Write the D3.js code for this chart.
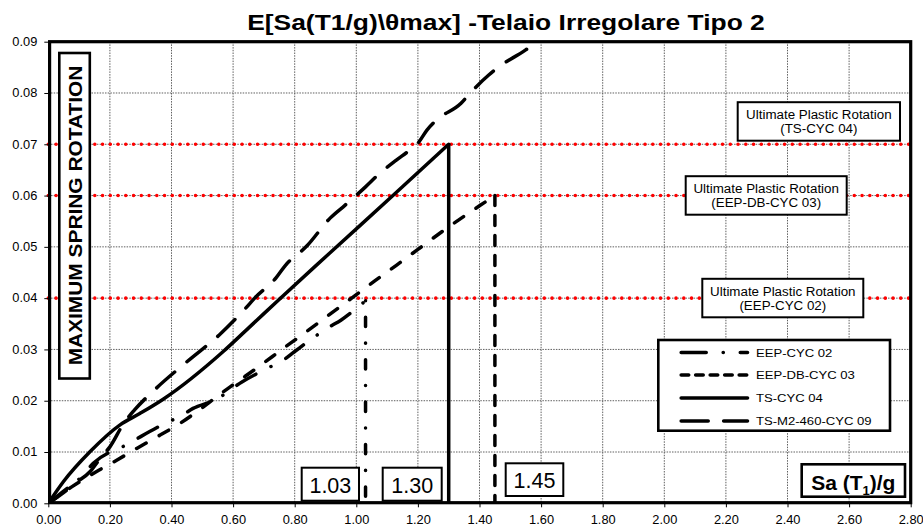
<!DOCTYPE html>
<html><head><meta charset="utf-8">
<script src="https://cdn.jsdelivr.net/npm/d3@7"></script>
<style>body{margin:0;background:#fff;} svg{display:block;font-family:Arial,"Liberation Sans",sans-serif;}</style>
</head><body><svg id="chart" width="923" height="526"></svg>
<script>
// ---------------- DATA ----------------
const titleText = "E[Sa(T1/g)\\θmax] -Telaio Irregolare Tipo 2";
const yAxisTitle = "MAXIMUM SPRING ROTATION";
const xTickValues = [0, 0.2, 0.4, 0.6, 0.8, 1.0, 1.2, 1.4, 1.6, 1.8, 2.0, 2.2, 2.4, 2.6, 2.8];
const yTickValues = [0, 0.01, 0.02, 0.03, 0.04, 0.05, 0.06, 0.07, 0.08, 0.09];
const seriesNames = ["EEP-CYC 02", "EEP-DB-CYC 03", "TS-CYC 04", "TS-M2-460-CYC 09"];

const eepCyc02 = [[0,0],[0.103,0.0049],[0.146,0.0078],[0.26,0.0116],[0.30,0.0130],[0.38,0.0156],[0.43,0.0170],[0.47,0.0185],[0.54,0.0201],[0.63,0.0237],[0.71,0.0263],[0.76,0.0278],[0.80,0.0296],[0.88,0.0331],[0.91,0.0343],[0.95,0.0357],[1.02,0.0390],[1.03,0.0395]];
const eepDbCyc03 = [[0,0],[0.076,0.0032],[0.157,0.0062],[0.222,0.0084],[0.287,0.0107],[0.363,0.0133],[0.428,0.0156],[0.49,0.0182],[0.547,0.0208],[0.60,0.0231],[0.687,0.0268],[0.763,0.0302],[0.839,0.0335],[0.904,0.0364],[0.985,0.0400],[1.061,0.0434],[1.13,0.0464],[1.20,0.0495],[1.30,0.0539],[1.40,0.0580],[1.45,0.0600]];
const tsCyc04 = [[0,0],[0.05,0.0043],[0.136,0.0101],[0.233,0.0153],[0.297,0.0175],[0.373,0.0203],[0.568,0.0296],[0.654,0.0344],[0.752,0.0399],[0.914,0.0488],[1.126,0.0604],[1.30,0.0700]];
const tsM2Cyc09 = [[0,0],[0.07,0.0033],[0.136,0.0062],[0.173,0.0091],[0.20,0.0110],[0.245,0.0156],[0.28,0.0182],[0.35,0.0224],[0.45,0.0276],[0.56,0.0331],[0.64,0.0380],[0.67,0.0400],[0.74,0.0440],[0.77,0.0464],[0.84,0.0502],[0.915,0.0556],[0.963,0.0581],[1.03,0.0617],[1.07,0.0640],[1.13,0.0669],[1.17,0.0687],[1.20,0.0702],[1.23,0.0728],[1.26,0.0747],[1.34,0.0780],[1.37,0.0800],[1.43,0.0835],[1.47,0.0854],[1.55,0.0884],[1.586,0.0900]];

const capacityX = [1.03, 1.45, 1.30];
const capacityY = [0.0395, 0.060, 0.070];
const capacityLabels = ["1.03", "1.45", "1.30"];
const limitValues = [0.07, 0.06, 0.04];
const limitTitle = "Ultimate Plastic Rotation";
const limitLabels = ["(TS-CYC 04)", "(EEP-DB-CYC 03)", "(EEP-CYC 02)"];
const xAxisTitle = ["Sa (T", "1", ")/g"];

// ---------------- LAYOUT ----------------
const M = {left: 48.3, right: 910.7, top: 41.7, bottom: 503.3};
const x = d3.scaleLinear().domain([0, 2.8]).range([M.left, M.right]);
const y = d3.scaleLinear().domain([0, 0.09]).range([M.bottom, M.top]);
const svg = d3.select("#chart");

function addText(g, tx, ty, str, o) {
  o = Object.assign({size: 12, weight: "normal", anchor: "middle", sx: 1, rotate: 0}, o || {});
  return g.append("text")
    .attr("transform", `translate(${tx},${ty}) rotate(${o.rotate}) scale(${o.sx},1)`)
    .attr("text-anchor", o.anchor).attr("font-size", o.size).attr("font-weight", o.weight)
    .attr("fill", "#000").text(str);
}

svg.append("defs").append("clipPath").attr("id", "plotclip")
  .append("rect").attr("x", M.left).attr("y", M.top).attr("width", M.right - M.left).attr("height", M.bottom - M.top);

// grid
const grid = svg.append("g");
grid.selectAll("line.v").data(xTickValues.slice(1, -1)).join("line")
  .attr("x1", d => x(d)).attr("x2", d => x(d)).attr("y1", M.top).attr("y2", M.bottom)
  .attr("stroke", "#606060").attr("stroke-width", 1).attr("stroke-dasharray", "1.5,1.2");
grid.selectAll("line.h").data(yTickValues.slice(1, -1)).join("line")
  .attr("y1", d => y(d)).attr("y2", d => y(d)).attr("x1", M.left).attr("x2", M.right)
  .attr("stroke", "#606060").attr("stroke-width", 1).attr("stroke-dasharray", "1.5,1.2");

// red limit lines
svg.append("g").selectAll("line").data(limitValues).join("line")
  .attr("x1", M.left).attr("x2", M.right).attr("y1", d => y(d)).attr("y2", d => y(d))
  .attr("stroke", "#ff0000").attr("stroke-width", 3.6).attr("stroke-linecap", "round")
  .attr("stroke-dasharray", "0,7.75");

// curves
const seriesData = [eepCyc02, eepDbCyc03, tsCyc04, tsM2Cyc09];
const plotDash = ["22,17,0.1,17", "11,15", null, "24,16"];
const legendDash = ["25,17,0.1,17", "7.5,7", null, "27,15.5"];
const line = d3.line().x(d => x(d[0])).y(d => y(d[1])).curve(d3.curveMonotoneX);
const curves = svg.append("g").attr("clip-path", "url(#plotclip)");
seriesData.forEach((s, i) => {
  curves.append("path").attr("d", line(s)).attr("fill", "none").attr("stroke", "#000")
    .attr("stroke-width", 3.5).attr("stroke-linecap", "round").attr("stroke-linejoin", "round")
    .attr("stroke-dasharray", plotDash[i]);
});

// vertical capacity lines
const vertDash = ["0.1,16.5,9.3,16.5", "10,10", null];
capacityX.forEach((cx, i) => {
  curves.append("line").attr("x1", x(cx)).attr("x2", x(cx)).attr("y1", y(capacityY[i])).attr("y2", y(0))
    .attr("stroke", "#000").attr("stroke-width", 3.5)
    .attr("stroke-linecap", vertDash[i] ? "round" : "butt")
    .attr("stroke-dasharray", vertDash[i]);
});

// axes
const xAxis = svg.append("g").attr("transform", `translate(0,${M.bottom})`)
  .call(d3.axisBottom(x).tickValues(xTickValues).tickFormat(d3.format(".2f")).tickSize(4).tickPadding(3));
xAxis.select(".domain").remove();
xAxis.selectAll("text").attr("font-size", 12).attr("font-family", "Arial, 'Liberation Sans', sans-serif")
  .attr("fill", "#000").attr("transform", "scale(1.07,1)").attr("y", 12).attr("dy", "0.71em");
xAxis.selectAll(".tick line").attr("stroke", "#000");
const yAxis = svg.append("g").attr("transform", `translate(${M.left},0)`)
  .call(d3.axisLeft(y).tickValues(yTickValues).tickFormat(d3.format(".2f")).tickSize(4).tickPadding(6));
yAxis.select(".domain").remove();
yAxis.selectAll("text").attr("font-size", 12).attr("font-family", "Arial, 'Liberation Sans', sans-serif")
  .attr("fill", "#000").attr("x", -10.3).attr("transform", "scale(1.07,1)");
yAxis.selectAll(".tick line").attr("stroke", "#000");

// frame
svg.append("rect").attr("x", M.left + 1.3).attr("y", M.top).attr("width", M.right - M.left - 1.3).attr("height", M.bottom - M.top - 0.6)
  .attr("fill", "none").attr("stroke", "#000").attr("stroke-width", 3.2);

// title
addText(svg, 506, 29.5, titleText, {size: 22, weight: "bold", sx: 1.2});

// y axis title box
svg.append("rect").attr("x", 59.3).attr("y", 53).attr("width", 30.5).attr("height", 325.5)
  .attr("fill", "#fff").attr("stroke", "#000").attr("stroke-width", 2.6);
addText(svg, 81.6, 215.5, yAxisTitle, {size: 18.5, weight: "bold", rotate: -90, sx: 1.13});

// ultimate rotation annotation boxes
const annBoxes = [
  {x0: 737.7, x1: 900, cy: 121.2},
  {x0: 685.7, x1: 846.7, cy: 195.2},
  {x0: 702.3, x1: 863.3, cy: 297.8}
];
annBoxes.forEach((b, i) => {
  svg.append("rect").attr("x", b.x0).attr("y", b.cy - 19).attr("width", b.x1 - b.x0).attr("height", 38.5)
    .attr("fill", "#fff").attr("stroke", "#000").attr("stroke-width", 2);
  const cx = (b.x0 + b.x1) / 2;
  addText(svg, cx, b.cy - 2.3, limitTitle, {size: 13.5, sx: 0.99});
  addText(svg, cx, b.cy + 11.7, limitLabels[i], {size: 13.5, sx: 0.99});
});

// capacity value boxes
const valBoxes = [
  {x0: 301.7, w: 57.3, y0: 467.7, h: 33, base: 492.5},
  {x0: 505.7, w: 57.6, y0: 463.3, h: 32.7, base: 488.3},
  {x0: 382.7, w: 59, y0: 467.7, h: 33, base: 492.5}
];
valBoxes.forEach((b, i) => {
  svg.append("rect").attr("x", b.x0).attr("y", b.y0).attr("width", b.w).attr("height", b.h)
    .attr("fill", "#fff").attr("stroke", "#000").attr("stroke-width", 2);
  addText(svg, b.x0 + b.w / 2, b.base, capacityLabels[i], {size: 21.5});
});

// x axis title box
svg.append("rect").attr("x", 801.7).attr("y", 464.3).attr("width", 103.3).attr("height", 32.4)
  .attr("fill", "#fff").attr("stroke", "#000").attr("stroke-width", 2.6);
const xt = svg.append("text").attr("transform", "translate(853.3,490.3)").attr("text-anchor", "middle")
  .attr("font-size", 21).attr("font-weight", "bold");
xt.append("tspan").text(xAxisTitle[0]);
xt.append("tspan").attr("font-size", 13).attr("dy", 5).text(xAxisTitle[1]);
xt.append("tspan").attr("dy", -5).text(xAxisTitle[2]);

// legend
svg.append("rect").attr("x", 658.3).attr("y", 340).attr("width", 231.7).attr("height", 90.7)
  .attr("fill", "#fff").attr("stroke", "#000").attr("stroke-width", 2.6);
const legRows = [352.5, 375, 398, 421];
seriesNames.forEach((n, i) => {
  svg.append("line").attr("x1", 681.2).attr("x2", 747.5).attr("y1", legRows[i]).attr("y2", legRows[i])
    .attr("stroke", "#000").attr("stroke-width", 3.6).attr("stroke-linecap", "round")
    .attr("stroke-dasharray", legendDash[i]);
  addText(svg, 756, legRows[i] + 4, n, {size: 11, anchor: "start", sx: 1.19});
});
</script></body></html>
